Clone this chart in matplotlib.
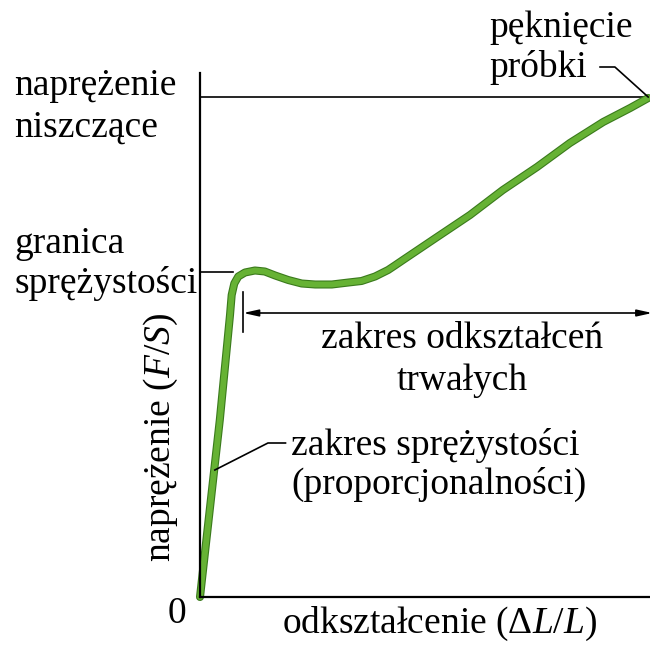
import matplotlib
matplotlib.use("Agg")
import matplotlib.pyplot as plt
import matplotlib.patheffects as pe

plt.rcParams['font.family'] = ['Liberation Serif', 'DejaVu Serif']
plt.rcParams['mathtext.fontset'] = 'custom'
plt.rcParams['mathtext.rm'] = 'Liberation Serif'
plt.rcParams['mathtext.it'] = 'Liberation Serif:italic'

# krzywa rozciągania (jednostki umowne)
strain = [0, 4.4, 6.67, 7.04, 7.62, 8.51, 10.0, 12.2, 14.4, 16.7, 19.6, 22.6, 25.6,
          29.3, 33.0, 35.9, 38.9, 41.8, 43.3, 45.1, 52.7, 60.0, 67.3, 74.9, 82.2,
          89.6, 95.6, 99.6]
stress = [0, 35.4, 56.4, 60.4, 62.7, 64.1, 64.9, 65.3, 65.1, 64.3, 63.4, 62.7, 62.5,
          62.5, 62.9, 63.2, 64.1, 65.4, 66.3, 67.4, 72.0, 76.4, 81.4, 86.0, 90.8,
          95.0, 97.8, 99.8]

elastic_limit = 65.0     # granica sprężystości
ultimate = 100.0         # naprężenie niszczące
plastic_start = 9.6      # początek odkształceń trwałych
x_max, y_max = 100, 104.8

FS = 27

fig = plt.figure(figsize=(6.5, 6.45), dpi=100)
ax = fig.add_axes([200/650, 48/645, 450/650, 524/645])
ax.set_xlim(0, x_max)
ax.set_ylim(0, y_max)
for s in ['top', 'right']:
    ax.spines[s].set_visible(False)
for s in ['left', 'bottom']:
    ax.spines[s].set_linewidth(1.6)
ax.set_xticks([])
ax.set_yticks([])

# linie poziome
ax.plot([0, 7.4], [elastic_limit, elastic_limit], color='black', lw=1.2, clip_on=False)
ax.plot([0, x_max], [ultimate, ultimate], color='black', lw=1.2, clip_on=False)

# krzywa
ax.plot(strain, stress, color='#66b234', lw=4.2, solid_capstyle='round',
        solid_joinstyle='round', clip_on=False,
        path_effects=[pe.Stroke(linewidth=5.8, foreground='#3a7a1c'), pe.Normal()])

# zakres odkształceń trwałych
ax.plot([plastic_start, plastic_start], [53.0, 61.0], color='black', lw=1.2)
ax.annotate('', xy=(plastic_start, 56.8), xytext=(x_max + 0.5, 56.8),
            arrowprops=dict(arrowstyle='<|-|>,head_length=0.9,head_width=0.2',
                            color='black', lw=1.2, shrinkA=0, shrinkB=0),
            annotation_clip=False)
ax.text(58.2, 49.8, 'zakres odkształceń', fontsize=FS, ha='center', va='baseline')
ax.text(58.2, 41.4, 'trwałych', fontsize=FS, ha='center', va='baseline')

# zakres sprężystości
ax.plot([3.3, 15.1, 19.0], [25.4, 30.8, 30.8], color='black', lw=1.2)
ax.text(20.2, 28.4, 'zakres sprężystości', fontsize=FS, ha='left', va='baseline')
ax.text(20.2, 20.6, '(proporcjonalności)', fontsize=FS, ha='left', va='baseline')

# pęknięcie próbki
ax.plot([88.9, 92.2, 99.6], [106.0, 106.0, 100.0], color='black', lw=1.2, clip_on=False)
ax.text(64.4, 112.0, 'pęknięcie', fontsize=FS, ha='left', va='baseline')
ax.text(64.4, 104.0, 'próbki', fontsize=FS, ha='left', va='baseline')

# opisy po lewej
ax.text(-41.3, 100.4, 'naprężenie', fontsize=FS, ha='left', va='baseline')
ax.text(-41.3, 92.0, 'niszczące', fontsize=FS, ha='left', va='baseline')
ax.text(-41.3, 68.8, 'granica', fontsize=FS, ha='left', va='baseline')
ax.text(-41.3, 60.8, 'sprężystości', fontsize=FS, ha='left', va='baseline')

ax.text(-5.1, -5.2, '0', fontsize=FS, ha='center', va='baseline')
ax.text(-6.7, 32.0, r'naprężenie ($F/S$)', fontsize=FS, ha='center', va='baseline',
        rotation=90, rotation_mode='anchor')
ax.text(53.3, -7.2, r'odkształcenie ($\Delta L/L$)', fontsize=FS, ha='center',
        va='baseline')

fig.savefig('out.png', dpi=100)
